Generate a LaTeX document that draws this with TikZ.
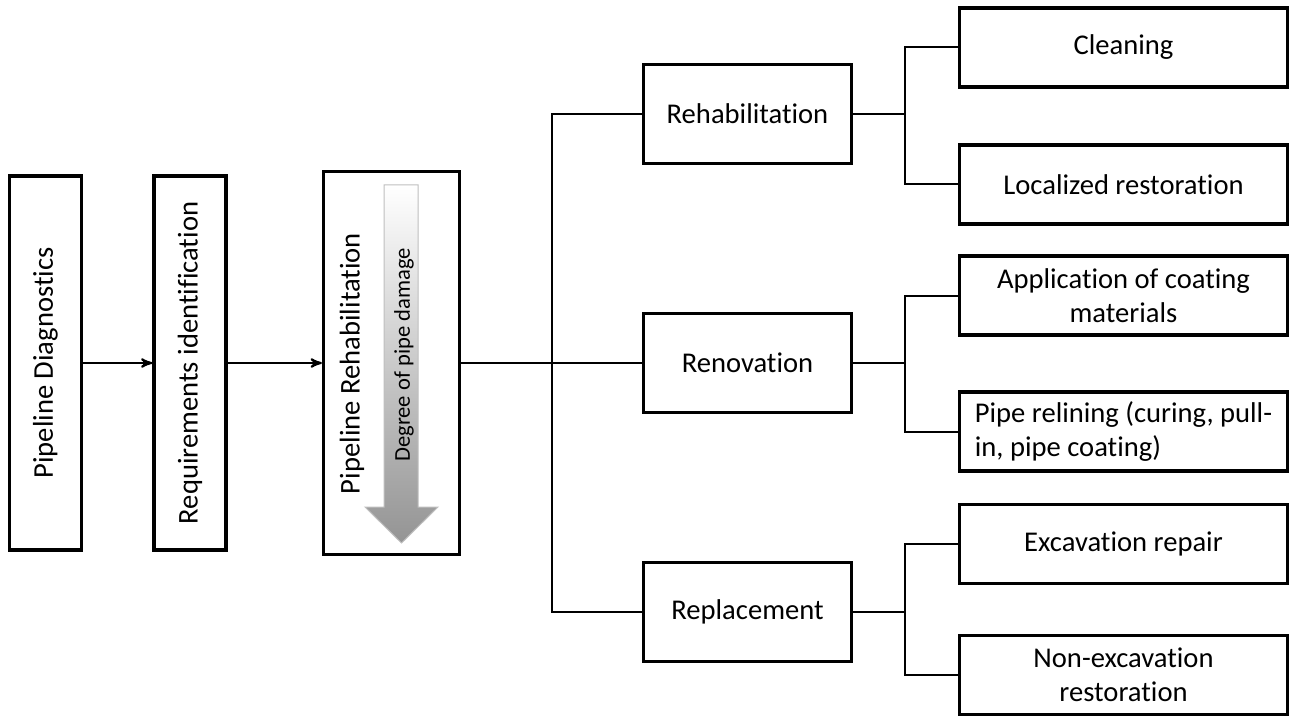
\documentclass[tikz,border=0pt]{standalone}
\usepackage{fontspec}
\setmainfont[Ligatures=NoCommon]{Carlito}
\usetikzlibrary{arrows,positioning}

\begin{document}
\begin{tikzpicture}[x=0.5pt,y=0.5pt,>=stealth',semithick]
  \tikzstyle{box}=[draw=black,line width=1.6pt,fill=white,inner sep=2pt,
                   font=\fontsize{14.3}{17.2}\selectfont,align=center]
  \tikzstyle{stage}=[box,rotate=90,minimum width=187pt,minimum height=36pt]
  \tikzstyle{method}=[box,minimum width=104pt,minimum height=49.5pt]
  \tikzstyle{technique}=[box,minimum width=164pt,minimum height=39.5pt]
  \tikzstyle{link}=[line width=1pt]

  \useasboundingbox (0,0) rectangle (1291,-717);

  % process chain
  \node[stage]           (Diag) at (45.5,-363)  {Pipeline Diagnostics};
  \node[stage]           (Req)  at (190,-363)   {Requirements identification};
  \node[box,minimum width=68pt,minimum height=191.5pt] (Pipe) at (391.5,-363) {};

  % damage scale inside the rehabilitation box
  \shade[top color=white,bottom color=black!42,draw=black!25,line width=0.5pt]
    (384,-185) -- (418,-185) -- (418,-507) -- (438,-507) -- (401.5,-543)
    -- (365,-507) -- (384,-507) -- cycle;
  \node[rotate=90,font=\fontsize{14.3}{17.2}\selectfont] (PipeLabel) at (352,-363.5) {Pipeline Rehabilitation};
  \node[rotate=90,font=\fontsize{11.3}{13.5}\selectfont] (Damage) at (404,-355) {Degree of pipe damage};

  % methods
  \node[method]          (Rehab) at (747.5,-114) {Rehabilitation};
  \node[method]          (Renov) at (747.5,-363) {Renovation};
  \node[method]          (Repl)  at (747.5,-612) {Replacement};

  % techniques
  \node[technique]       (Clean)  at (1123.5,-47.5)  {Cleaning};
  \node[technique]       (Local)  at (1123.5,-184.5) {Localized restoration};
  \node[technique]       (Coat)   at (1123.5,-295.5) {Application of coating\\materials};
  \node[technique,align=left] (Reline) at (1123.5,-431.5) {Pipe relining (curing, pull-\\in, pipe coating)};
  \node[technique]       (Excav)  at (1123.5,-544)   {Excavation repair};
  \node[technique]       (NonEx)  at (1123.5,-675)   {Non-excavation\\restoration};

  \coordinate (Fork)      at (552,-363);
  \coordinate (RehabFork) at (905,-114);
  \coordinate (RenovFork) at (905,-363);
  \coordinate (ReplFork)  at (905,-612);

  \draw[link,->] (Diag) -- (Req);
  \draw[link,->] (Req) -- (Pipe);
  \draw[link] (Pipe) -- (Fork);
  \draw[link] (Fork) |- (Rehab);
  \draw[link] (Fork) |- (Renov);
  \draw[link] (Fork) |- (Repl);

  \draw[link] (Rehab) -- (RehabFork);
  \draw[link] (RehabFork) |- (Clean);
  \draw[link] (RehabFork) |- (Local);
  \draw[link] (Renov) -- (RenovFork);
  \draw[link] (RenovFork) |- (Coat);
  \draw[link] (RenovFork) |- (Reline);
  \draw[link] (Repl) -- (ReplFork);
  \draw[link] (ReplFork) |- (Excav);
  \draw[link] (ReplFork) |- (NonEx);
\end{tikzpicture}
\end{document}
